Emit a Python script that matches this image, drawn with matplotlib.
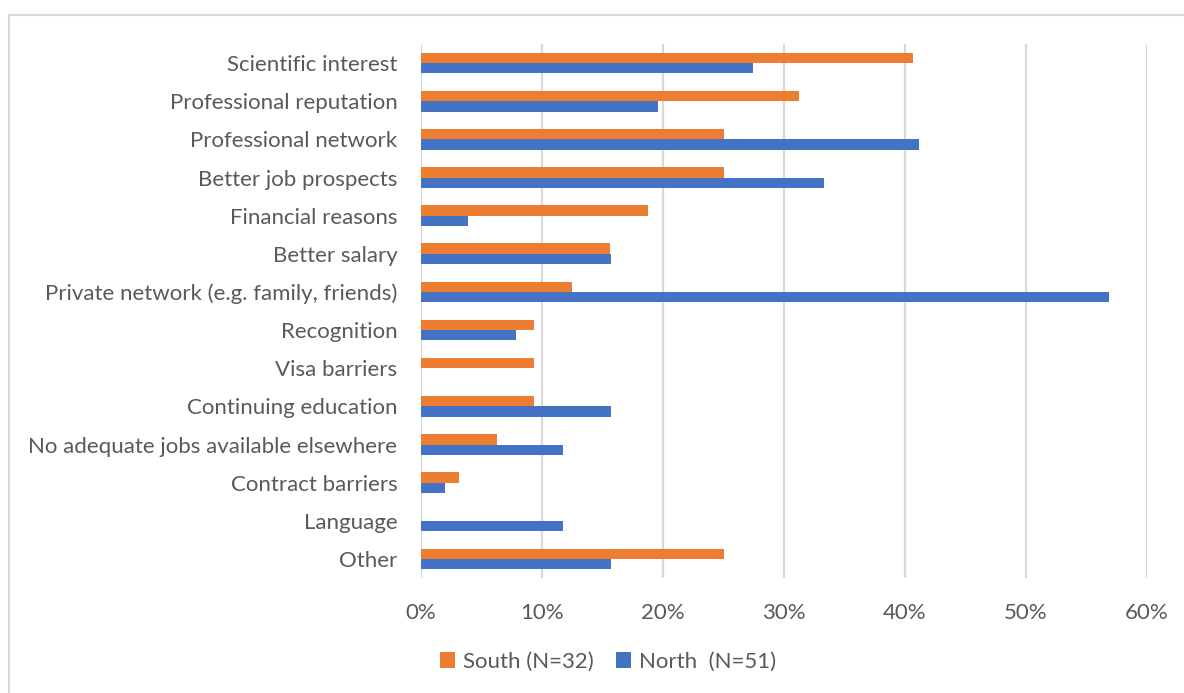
import matplotlib
matplotlib.use("Agg")
import matplotlib.pyplot as plt
import numpy as np
from matplotlib.patches import Rectangle
from matplotlib.ticker import FuncFormatter

categories = [
    "Scientific interest",
    "Professional reputation",
    "Professional network",
    "Better job prospects",
    "Financial reasons",
    "Better salary",
    "Private network (e.g. family, friends)",
    "Recognition",
    "Visa barriers",
    "Continuing education",
    "No adequate jobs available elsewhere",
    "Contract barriers",
    "Language",
    "Other",
]
south = [40.625, 31.25, 25.0, 25.0, 18.75, 15.625, 12.5, 9.375, 9.375, 9.375, 6.25, 3.125, 0.0, 25.0]
north = [27.45, 19.61, 41.18, 33.33, 3.92, 15.69, 56.86, 7.84, 0.0, 15.69, 11.76, 1.96, 11.76, 15.69]
south_label = "South (N=32)"
north_label = "North  (N=51)"
xticks = [0, 10, 20, 30, 40, 50, 60]

plt.rcParams["font.family"] = ["Lato", "DejaVu Sans"]
text_color = "#595959"
orange = "#ED7D31"
blue = "#4472C4"
grid_color = "#D9D9D9"
fs = 16

W, H = 1184, 693
fig = plt.figure(figsize=(W / 100, H / 100), dpi=100)

# chart-area border (top and left edges visible)
fig.add_artist(Rectangle((9 / W, -0.01), 1.2, (H - 15) / H + 0.01, transform=fig.transFigure,
                         fill=False, edgecolor="#D9D9D9", linewidth=1.5))

left, right = 421 / W, 1147 / W
top, bottom = 44 / H, 578 / H
ax = fig.add_axes([left, 1 - bottom, right - left, bottom - top])

y = np.arange(len(categories))
h = 0.27
ax.barh(y - h / 2, south, height=h, color=orange, label=south_label, zorder=3)
ax.barh(y + h / 2, north, height=h, color=blue, label=north_label, zorder=3)

ax.set_ylim(len(categories) - 0.5, -0.5)
ax.set_xlim(0, 60)
ax.set_xticks(xticks)
ax.xaxis.set_major_formatter(FuncFormatter(lambda v, p: f"{v:.0f}%"))
ax.set_yticks(y)
ax.set_yticklabels(categories)
ax.tick_params(axis="both", length=0, colors=text_color, labelsize=fs)
ax.tick_params(axis="y", pad=17)
ax.tick_params(axis="x", pad=18)
ax.grid(axis="x", color=grid_color, linewidth=1.6, zorder=0)
for s in ax.spines.values():
    s.set_visible(False)

leg = fig.legend(loc="center", bbox_to_anchor=(608 / W, 1 - 662 / H), ncol=2, frameon=False,
                 fontsize=fs, handlelength=0.7, handleheight=0.7, columnspacing=1.0,
                 handletextpad=0.35)
for t in leg.get_texts():
    t.set_color(text_color)

fig.savefig("out.png", dpi=100, facecolor="white")
